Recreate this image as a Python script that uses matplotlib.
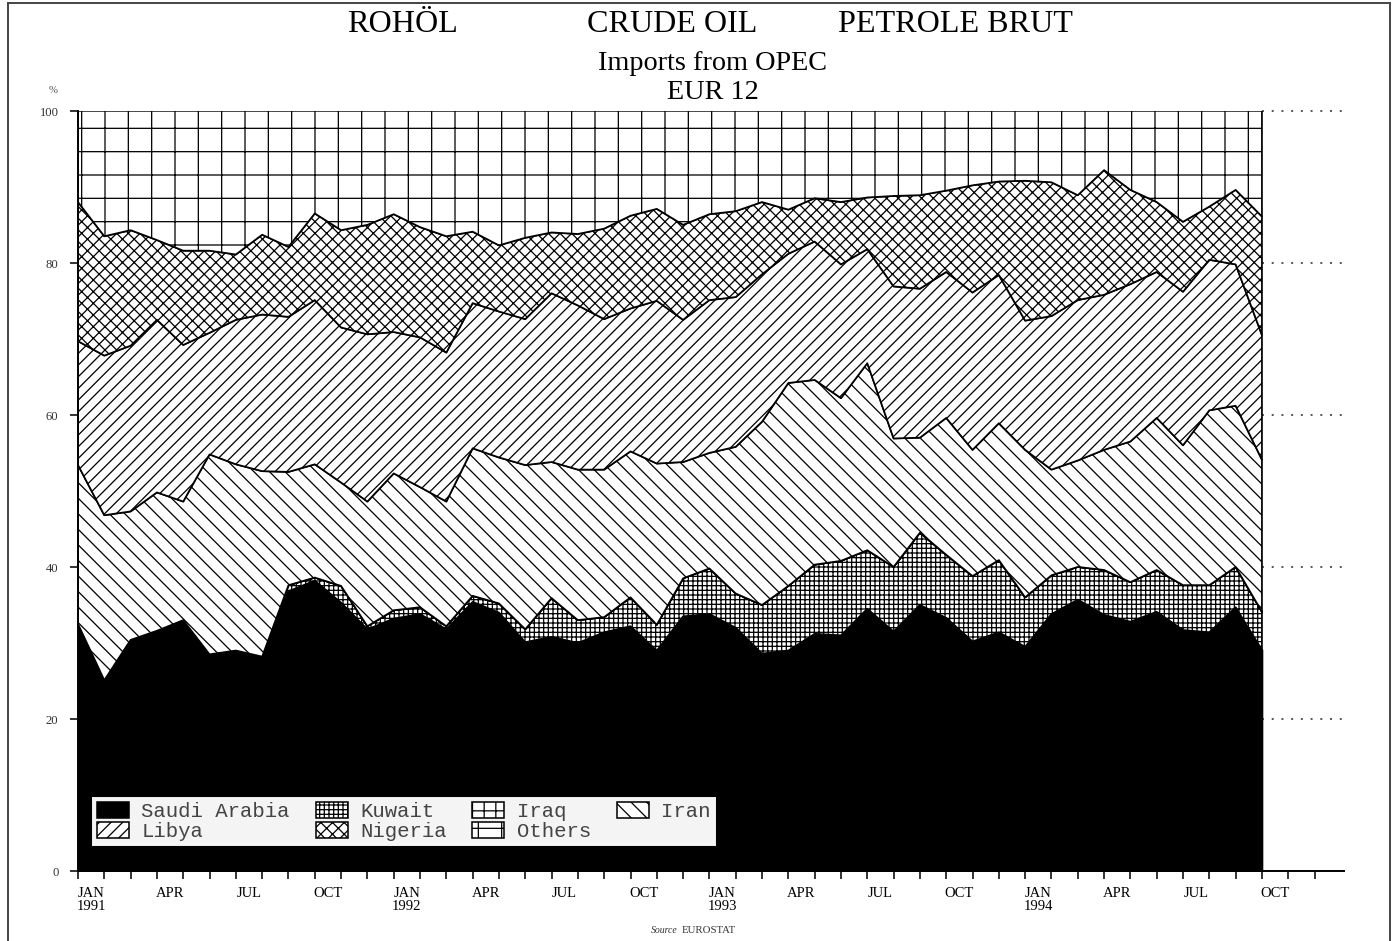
import matplotlib
matplotlib.use('Agg')
import matplotlib.pyplot as plt
from matplotlib.patches import Patch
from matplotlib.lines import Line2D
import numpy as np

# ---------------- data (shares in %, Jan 1991 .. Oct 1994) ----------------
months = list(range(46))

saudi = [32.5, 25.1, 30.4, 31.6, 33.0, 28.5, 29.0, 28.2, 36.8, 38.2,
         35.3, 31.8, 33.2, 33.8, 31.8, 35.4, 34.0, 30.1, 30.8, 30.0,
         31.4, 32.2, 29.0, 33.5, 33.8, 32.0, 28.6, 29.0, 31.2, 31.0,
         34.5, 31.5, 35.0, 33.3, 30.2, 31.4, 29.5, 33.8, 35.7, 33.7,
         32.8, 34.1, 31.7, 31.4, 34.7, 29.1]
kuwait = [0.0, 0.0, 0.0, 0.0, 0.0, 0.0, 0.0, 0.0, 0.8, 0.4,
          2.2, 0.4, 1.1, 0.9, 0.4, 0.8, 1.2, 1.7, 5.1, 3.0,
          2.0, 3.8, 3.4, 5.0, 6.0, 4.5, 6.4, 8.5, 9.1, 9.8,
          7.7, 8.5, 9.5, 8.3, 8.6, 9.5, 6.5, 5.1, 4.3, 5.9,
          5.2, 5.5, 5.9, 6.2, 5.3, 5.0]
iraq = [0.0, 0.0, 0.0, 0.0, 0.0, 0.0, 0.0, 0.0, 0.0, 0.0,
        0.0, 0.0, 0.0, 0.0, 0.0, 0.0, 0.0, 0.0, 0.0, 0.0,
        0.0, 0.0, 0.0, 0.0, 0.0, 0.0, 0.0, 0.0, 0.0, 0.0,
        0.0, 0.0, 0.0, 0.0, 0.0, 0.0, 0.0, 0.0, 0.0, 0.0,
        0.0, 0.0, 0.0, 0.0, 0.0, 0.0]
iran = [20.9, 21.7, 16.9, 18.2, 15.6, 26.3, 24.5, 24.4, 14.9, 14.9,
        13.6, 16.4, 18.0, 15.8, 16.4, 19.4, 19.2, 21.6, 17.9, 19.8,
        19.4, 19.2, 21.2, 15.3, 15.2, 19.3, 24.1, 26.7, 24.3, 21.4,
        24.6, 16.9, 12.5, 18.0, 16.6, 18.0, 19.4, 13.9, 14.0, 15.8,
        18.5, 20.0, 18.4, 23.0, 21.2, 20.0]
libya = [16.3, 21.0, 21.8, 22.7, 20.6, 16.0, 19.0, 20.6, 20.4, 21.6,
         20.4, 22.0, 18.6, 19.7, 19.6, 19.1, 19.2, 19.2, 22.2, 21.6,
         19.8, 18.8, 21.4, 18.7, 20.1, 19.7, 19.4, 17.0, 18.2, 17.6,
         15.0, 20.0, 19.6, 19.2, 20.7, 19.5, 17.0, 20.2, 21.1, 20.4,
         20.7, 19.2, 20.2, 19.8, 18.6, 16.4]
nigeria = [18.3, 15.7, 15.2, 10.5, 12.4, 10.8, 8.6, 10.5, 9.2, 11.4,
           12.8, 14.4, 15.5, 14.5, 15.3, 9.4, 8.7, 10.7, 8.0, 9.4,
           11.9, 12.2, 12.1, 12.5, 11.3, 11.3, 9.5, 5.8, 5.7, 8.2,
           6.8, 11.9, 12.3, 10.7, 14.1, 12.3, 18.4, 17.6, 13.8, 16.4,
           12.4, 9.2, 9.2, 7.0, 9.8, 15.6]
others = [12.0, 16.5, 15.7, 17.0, 18.4, 18.4, 18.9, 16.3, 17.9, 13.5,
          15.7, 15.0, 13.6, 15.3, 16.5, 15.9, 17.7, 16.7, 16.0, 16.2,
          15.5, 13.8, 12.9, 15.0, 13.6, 13.2, 12.0, 13.0, 11.5, 12.0,
          11.4, 11.2, 11.1, 10.5, 9.8, 9.3, 9.2, 9.4, 11.1, 7.8,
          10.4, 12.0, 14.6, 12.6, 10.4, 13.9]

series_names = ['Saudi Arabia', 'Kuwait', 'Iraq', 'Iran', 'Libya', 'Nigeria', 'Others']
series_values = [saudi, kuwait, iraq, iran, libya, nigeria, others]

tick_labels = ['JAN\n1991', 'APR', 'JUL', 'OCT', 'JAN\n1992', 'APR', 'JUL', 'OCT',
               'JAN\n1993', 'APR', 'JUL', 'OCT', 'JAN\n1994', 'APR', 'JUL', 'OCT']
y_ticks = [0, 20, 40, 60, 80, 100]

# ---------------- styles ----------------
faces = ['black', 'white', 'white', 'white', 'white', 'white', 'white']
hatches = [None, '+++++', '++', '\\\\\\', '////', 'xxxx', '+']

plt.rcParams['hatch.linewidth'] = 0.65
plt.rcParams['hatch.color'] = 'black'

W, H, DPI = 1400, 941, 140
fig = plt.figure(figsize=(W / DPI, 941.2 / DPI), dpi=DPI)
fig.patch.set_facecolor('white')

def px(x, y):
    return x / W, 1 - y / H

x0, x1 = 78, 1343.5
y0, y1 = 871, 111
ax = fig.add_axes([x0 / W, 1 - y0 / H, (x1 - x0) / W, (y0 - y1) / H])
ax.set_xlim(0, 48.1)
ax.set_ylim(0, 100)
ax.set_facecolor('none')

x = np.array(months, dtype=float)
base = np.zeros(len(months))
for name, vals, fc, h in zip(series_names, series_values, faces, hatches):
    top = base + np.array(vals)
    ax.fill_between(x, base, top, facecolor=fc, edgecolor='black',
                    hatch=h, linewidth=0.9, zorder=2)
    base = top

# dotted guide lines to the right of the chart
for yv in y_ticks[1:]:
    ax.plot([45, 48.1], [yv, yv], color='#555555', linestyle=(0, (1, 4)),
            linewidth=1.0, clip_on=False, zorder=1)

# spines / ticks
ax.spines['top'].set_visible(False)
ax.spines['right'].set_visible(False)
ax.spines['left'].set_linewidth(1.0)
ax.spines['bottom'].set_linewidth(1.0)

ax.set_yticks(y_ticks)
ax.set_yticklabels([str(v) for v in y_ticks], fontsize=6.5,
                   family='Liberation Serif', color='#333333')
ax.tick_params(axis='y', direction='out', length=4, width=0.8, pad=6)

ax.set_xticks(range(0, 48))
ax.set_xticklabels([])
ax.set_xticks([i + 0.5 for i in range(0, 46, 3)], minor=True)
ax.set_xticklabels(tick_labels, minor=True, fontsize=7.5,
                   family='Liberation Serif', linespacing=1.0)
ax.tick_params(axis='x', which='major', direction='out', length=4, width=0.8)
ax.tick_params(axis='x', which='minor', length=0, pad=8)

# legend
order = [0, 4, 1, 5, 2, 6, 3]
handles = [Patch(facecolor=faces[i], edgecolor='black', hatch=hatches[i],
                 linewidth=0.8, label=series_names[i]) for i in order]
leg = ax.legend(handles=handles, ncol=4, loc='lower left',
                bbox_to_anchor=((93 - x0) / (x1 - x0), (y0 - 845) / (y0 - y1)),
                prop={'family': 'Liberation Mono', 'size': 10.6},
                handlelength=1.55, handleheight=0.8, handletextpad=0.6,
                columnspacing=1.25, labelspacing=0.05, borderpad=0.2,
                borderaxespad=0, frameon=True, fancybox=False)
leg.get_frame().set_facecolor('#f4f4f4')
leg.get_frame().set_edgecolor('#f4f4f4')
leg.get_frame().set_alpha(1)
for t in leg.get_texts():
    t.set_color('#444444')
leg.set_zorder(5)

# titles
serif = 'Liberation Serif'
fig.text(*px(403, 24), 'ROHÖL', ha='center', va='center', fontsize=16.5, family=serif)
fig.text(*px(672, 24), 'CRUDE OIL', ha='center', va='center', fontsize=16.5, family=serif)
fig.text(*px(955, 24), 'PETROLE BRUT', ha='center', va='center', fontsize=16.5, family=serif)
fig.text(*px(713, 63), 'Imports from OPEC', ha='center', va='center', fontsize=14.5, family=serif)
fig.text(*px(713, 92), 'EUR 12', ha='center', va='center', fontsize=14.5, family=serif)
fig.text(*px(53, 90), '%', ha='center', va='center', fontsize=5.5, family=serif, color='#555555')
fig.text(*px(678, 930), 'Source', ha='right', va='center', fontsize=5, family=serif,
         style='italic', color='#333333')
fig.text(*px(682, 930), 'EUROSTAT', ha='left', va='center', fontsize=5.5, family=serif,
         color='#333333')

# page border
for xs, ys in [([8, 8], [3, 941]), ([1390, 1390], [3, 941]), ([8, 1390], [3, 3])]:
    fig.add_artist(Line2D([v / W for v in xs], [1 - v / H for v in ys],
                          color='#444444', linewidth=1.0))

fig.savefig('out.png', dpi=DPI, facecolor='white')
